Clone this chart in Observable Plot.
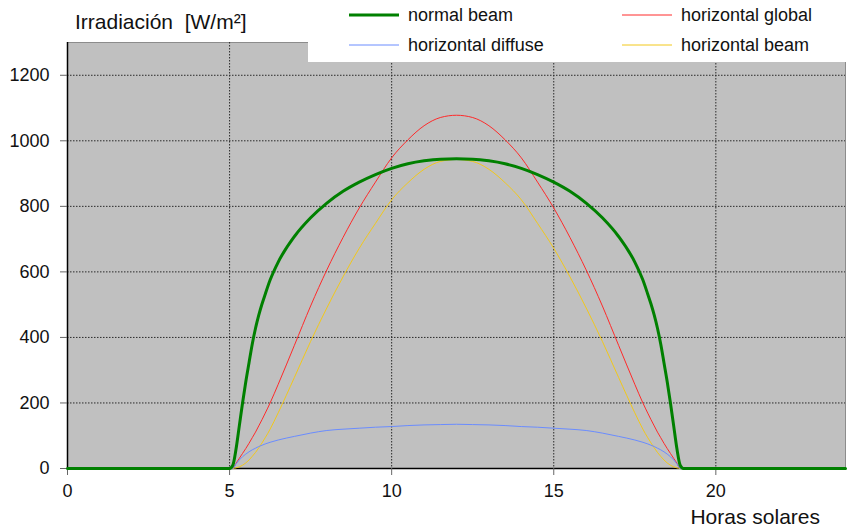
<!DOCTYPE html>
<html>
<head>
<meta charset="utf-8">
<script src="https://cdn.jsdelivr.net/npm/d3@7"></script>
<script src="https://cdn.jsdelivr.net/npm/@observablehq/plot@0.6"></script>
<style>
  html, body { margin: 0; padding: 0; background: #fff; }
  #chart svg { display: block; }
</style>
</head>
<body>
<div id="chart"></div>
<script>
// Solar hours
const hours = [0,5,5.1,5.2,5.3,5.4,5.5,5.6,5.7,5.8,5.9,6,6.1,6.25,6.5,7,7.5,8,8.5,9,9.5,10,10.5,11,11.5,12,
               12.5,13,13.5,14,14.5,15,15.5,16,16.5,17,17.5,17.75,17.9,18,18.1,18.2,18.3,18.4,18.5,18.6,18.7,18.8,18.9,19,24];
// Irradiance series [W/m²]
const normalBeam = [0,0,10,60,130,200,265,323,380,428,468,502,532,575,630,708,765,810,846,874,897,916,930,939,944,945,
                    944,939,930,916,897,874,846,810,765,708,630,575,532,502,468,428,380,323,265,200,130,60,10,0,0];
const horizontalGlobal = [0,0,0,16,31,46,61,77,94,111,130,149,169,200,257,376,496,606,705,795,874,948,1003,1046,1071,1078,
                    1071,1046,1003,948,874,795,705,606,496,376,257,200,169,149,130,111,94,77,61,46,31,16,0,0,0];
const horizontalDiffuse = [0,0,0,14,26,36,44,51,57,62,67,71,75,80,87,98,108,116,120,123,126,128,131,133,134,135,
                    134,133,131,128,126,123,120,116,108,98,87,80,75,71,67,62,57,51,44,36,26,14,0,0,0];
const horizontalBeam = [0,0,0,2,5,10,17,26,37,49,63,78,94,120,170,278,388,490,585,672,748,820,872,913,937,943,
                    937,913,872,820,748,672,585,490,388,278,170,120,94,78,63,49,37,26,17,10,5,2,0,0,0];

const xTicks = [0,5,10,15,20];
const yTicks = [0,200,400,600,800,1000,1200];

const seriesNames = ["normal beam","horizontal global","horizontal diffuse","horizontal beam"];
const seriesColors = ["#008000","#ff2a2a","#6a8cff","#f2c81a"];
const seriesWidths = [3,1,1,1];

const toRows = (vals, name) => hours.map((h,i) => ({h, v: vals[i], s: name}));
const rowsNB = toRows(normalBeam, seriesNames[0]);
const rowsHG = toRows(horizontalGlobal, seriesNames[1]);
const rowsHD = toRows(horizontalDiffuse, seriesNames[2]);
const rowsHB = toRows(horizontalBeam, seriesNames[3]);

const W = 849, H = 530;
const mL = 67, mR = 4, mT = 42, mB = 62;
const font = "'Liberation Sans', Arial, sans-serif";

const grid = {stroke: "#2a2a2a", strokeOpacity: 1, strokeWidth: 1, strokeDasharray: "1.5,1.5"};

const plot = Plot.plot({
  width: W, height: H,
  marginLeft: mL, marginRight: mR, marginTop: mT, marginBottom: mB,
  style: {fontFamily: font, fontSize: "18px", color: "#111", background: "#fff"},
  x: {domain: [0,24]},
  y: {domain: [0,1300]},
  marks: [
    Plot.frame({fill: "#c0c0c0", stroke: "#8c8c8c"}),
    Plot.gridX(xTicks.filter(d => d > 0), grid),
    Plot.gridY(yTicks.filter(d => d > 0), grid),
    Plot.ruleX([0], {stroke: "#000", strokeWidth: 1.5}),
    Plot.ruleY([0], {stroke: "#000", strokeWidth: 1.5}),
    Plot.axisX({ticks: xTicks, tickSize: 7, tickPadding: 9, tickFormat: "d", label: null, stroke: "#666", fill: "#111", fontSize: 18}),
    Plot.axisY({ticks: yTicks, tickSize: 7, tickPadding: 11, tickFormat: "d", label: null, stroke: "#666", fill: "#111", fontSize: 18}),
    Plot.line(rowsHG, {x: "h", y: "v", stroke: seriesColors[1], strokeWidth: seriesWidths[1], curve: "monotone-x"}),
    Plot.line(rowsHB, {x: "h", y: "v", stroke: seriesColors[3], strokeWidth: seriesWidths[3], curve: "monotone-x"}),
    Plot.line(rowsHD, {x: "h", y: "v", stroke: seriesColors[2], strokeWidth: seriesWidths[2], curve: "monotone-x"}),
    Plot.line(rowsNB, {x: "h", y: "v", stroke: seriesColors[0], strokeWidth: seriesWidths[0], curve: "monotone-x"})
  ]
});

document.getElementById("chart").appendChild(plot);

// Decorations: title, axis label, legend
const svg = d3.select(plot);

svg.append("text")
  .attr("x", 75).attr("y", 29)
  .attr("text-anchor", "start")
  .attr("font-family", font).attr("font-size", 21).attr("fill", "#111")
  .style("white-space", "pre")
  .text("Irradiación  [W/m²]");

svg.append("text")
  .attr("x", 820).attr("y", 524)
  .attr("text-anchor", "end")
  .attr("font-family", font).attr("font-size", 21).attr("fill", "#111")
  .text("Horas solares");

const lg = svg.append("g");
lg.append("rect").attr("x", 308).attr("y", 0).attr("width", W - 308).attr("height", 62).attr("fill", "#fff");
const legendPos = [
  {x: 349, y: 15}, {x: 622, y: 15}, {x: 349, y: 45}, {x: 622, y: 45}
];
seriesNames.forEach((name, i) => {
  const p = legendPos[i];
  lg.append("line")
    .attr("x1", p.x).attr("x2", p.x + 50)
    .attr("y1", p.y).attr("y2", p.y)
    .attr("stroke", seriesColors[i])
    .attr("stroke-width", seriesWidths[i]);
  lg.append("text")
    .attr("x", p.x + 59).attr("y", p.y)
    .attr("dy", "0.35em")
    .attr("text-anchor", "start")
    .attr("font-family", font).attr("font-size", 18).attr("fill", "#111")
    .text(name);
});
</script>
</body>
</html>
